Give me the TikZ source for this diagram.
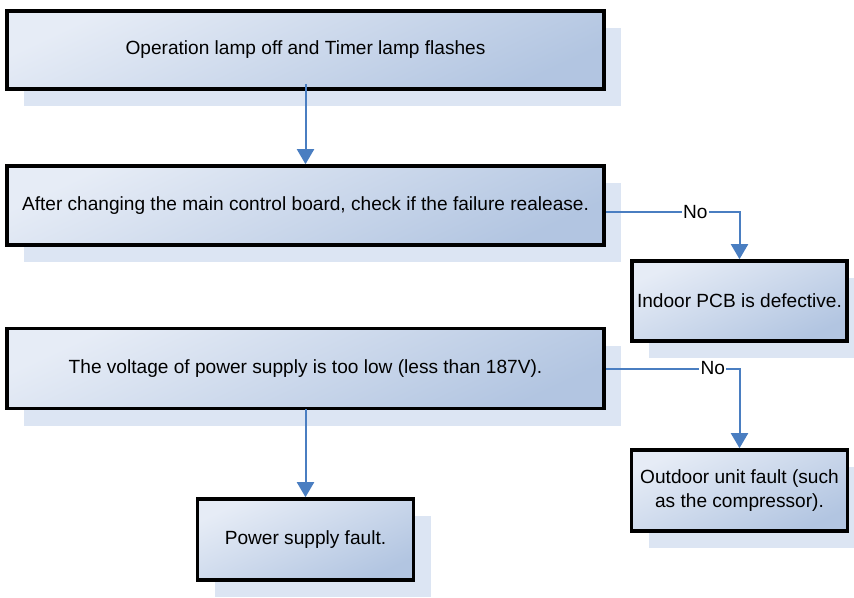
\documentclass[tikz,border=0pt]{standalone}
\usepackage{fontspec}
\setmainfont{Liberation Sans}
\usetikzlibrary{arrows.meta,shadows}
\definecolor{shadowc}{RGB}{220,229,243}
\definecolor{boxlight}{RGB}{230,236,246}
\definecolor{boxdark}{RGB}{178,197,225}
\definecolor{arrowc}{RGB}{74,126,193}
\begin{document}
\begin{tikzpicture}[x=1pt,y=-1pt,
  box/.style={draw=black, line width=3.6pt, rectangle,
    top color=boxlight, bottom color=boxdark, shading angle=25,
    font=\fontsize{19.1}{23.5}\selectfont, align=center, inner sep=0pt,
    drop shadow={shadow xshift=17pt, shadow yshift=-17pt, fill=shadowc, opacity=1}},
  conn/.style={draw=arrowc, line width=2pt, -{Triangle[width=17pt,length=15pt]}},
  lbl/.style={fill=white, inner sep=1.5pt, font=\fontsize{19.1}{23}\selectfont}
]
\useasboundingbox (0,0) rectangle (854,597);

\node[box, minimum width=597pt, minimum height=78pt] (b1) at (305.5,50)
  {Operation lamp off and Timer lamp flashes};
\node[box, minimum width=597pt, minimum height=79pt] (b2) at (305.5,205.5)
  {After changing the main control board, check if the failure realease.};
\node[box, minimum width=597pt, minimum height=80pt] (b3) at (305.5,368.5)
  {The voltage of power supply is too low (less than 187V).};
\node[box, minimum width=216pt, minimum height=81pt] (b4) at (305.5,539.5)
  {Power supply fault.};
\node[box, minimum width=215pt, minimum height=80pt] (b5) at (739.5,301)
  {Indoor PCB is defective.};
\node[box, minimum width=216pt, minimum height=81pt] (b6) at (739.5,490.5)
  {Outdoor unit fault (such\\as the compressor).};

\draw[conn] ([yshift=7pt]b1.south) -- (b2.north);
\draw[conn] ([yshift=-6.5pt]b2.east) -| node[lbl, pos=0.335] {No} (b5.north);
\draw[conn] (b3.east) -| node[lbl, pos=0.4] {No} (b6.north);
\draw[conn] ([yshift=1pt]b3.south) -- (b4.north);
\end{tikzpicture}
\end{document}
